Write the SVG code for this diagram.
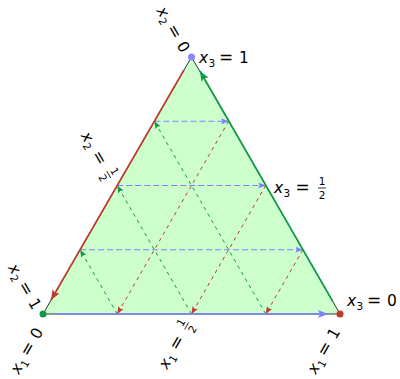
<svg xmlns="http://www.w3.org/2000/svg" width="400" height="379" viewBox="0 0 400 379">
<style>
.lbl{font-family:"DejaVu Sans","Liberation Sans",sans-serif;font-size:15.5px;fill:#000}
.it{font-style:italic}
.sub{font-size:10.5px}
.eq{font-size:17px}
.fr{font-family:"DejaVu Sans","Liberation Sans",sans-serif;font-size:10.5px;text-anchor:middle;fill:#000}
.bar{stroke:#000;stroke-width:0.8}
.db{fill:none;stroke:#8080ff;stroke-width:1.2;stroke-dasharray:6 3;marker-end:url(#ab)}
.dg{fill:none;stroke:#119a48;stroke-width:1;stroke-dasharray:3.5 4;marker-end:url(#ag)}
.dr{fill:none;stroke:#c03a2b;stroke-width:1;stroke-dasharray:3.5 4;marker-end:url(#ar)}
.edge{fill:none;stroke-width:1.6}
</style>
<defs>
<marker id="ab" viewBox="0 0 10 8" refX="10" refY="4" markerWidth="7.5" markerHeight="6" markerUnits="userSpaceOnUse" orient="auto"><path d="M0,0 L10,4 L0,8 L2,4 z" fill="#8080ff"/></marker>
<marker id="ag" viewBox="0 0 10 8" refX="10" refY="4" markerWidth="7.5" markerHeight="6" markerUnits="userSpaceOnUse" orient="auto"><path d="M0,0 L10,4 L0,8 L2,4 z" fill="#119a48"/></marker>
<marker id="ar" viewBox="0 0 10 8" refX="10" refY="4" markerWidth="7.5" markerHeight="6" markerUnits="userSpaceOnUse" orient="auto"><path d="M0,0 L10,4 L0,8 L2,4 z" fill="#c03a2b"/></marker>
<marker id="eb" viewBox="0 0 10 8" refX="10" refY="4" markerWidth="10" markerHeight="8" markerUnits="userSpaceOnUse" orient="auto"><path d="M0,0 L10,4 L0,8 L2,4 z" fill="#8080ff"/></marker>
<marker id="eg" viewBox="0 0 10 8" refX="10" refY="4" markerWidth="10" markerHeight="8" markerUnits="userSpaceOnUse" orient="auto"><path d="M0,0 L10,4 L0,8 L2,4 z" fill="#119a48"/></marker>
<marker id="er" viewBox="0 0 10 8" refX="10" refY="4" markerWidth="10" markerHeight="8" markerUnits="userSpaceOnUse" orient="auto"><path d="M0,0 L10,4 L0,8 L2,4 z" fill="#c03a2b"/></marker>
</defs>
<g id="simplex">
<polygon points="191.5,57 43,314 340,314" fill="#ccffcc" stroke="#000" stroke-width="0.8"/>
</g>
<g id="connectors">
<line class="db" x1="154.4" y1="121.25" x2="228.6" y2="121.25"/>
<line class="db" x1="117.25" y1="185.5" x2="265.75" y2="185.5"/>
<line class="db" x1="80.1" y1="249.75" x2="302.9" y2="249.75"/>
<line class="dg" x1="117.25" y1="314" x2="80.1" y2="249.75"/>
<line class="dg" x1="191.5" y1="314" x2="117.25" y2="185.5"/>
<line class="dg" x1="265.75" y1="314" x2="154.4" y2="121.25"/>
<line class="dr" x1="228.6" y1="121.25" x2="117.25" y2="314"/>
<line class="dr" x1="265.75" y1="185.5" x2="191.5" y2="314"/>
<line class="dr" x1="302.9" y1="249.75" x2="265.75" y2="314"/>
<line class="edge" stroke="#c03a2b" marker-end="url(#er)" x1="184" y1="70" x2="51" y2="300"/>
<line class="edge" stroke="#8080ff" marker-end="url(#eb)" x1="56" y1="314" x2="328" y2="314"/>
<line class="edge" stroke="#119a48" marker-end="url(#eg)" x1="332.5" y1="301" x2="200" y2="71"/>
</g>
<g id="vertex-top"><circle cx="191.5" cy="57" r="3.5" fill="#8888ff"/>
<text class="lbl" transform="translate(199,63)"><tspan class="it">x</tspan><tspan class="sub" x="9.5" dy="3.5">3</tspan><tspan class="eq" x="20" dy="-3.5">=</tspan><tspan x="40">1</tspan></text></g>
<g id="vertex-left"><circle cx="43" cy="314" r="3.5" fill="#119a48"/></g>
<g id="vertex-right"><circle cx="340" cy="314" r="3.5" fill="#c03a2b"/>
<text class="lbl" transform="translate(347,306)"><tspan class="it">x</tspan><tspan class="sub" x="9.5" dy="3.5">3</tspan><tspan class="eq" x="20" dy="-3.5">=</tspan><tspan x="40">0</tspan></text></g>
<g id="label-x3-half" transform="translate(274,193)">
<text class="lbl"><tspan class="it">x</tspan><tspan class="sub" x="9.5" dy="3.5">3</tspan><tspan class="eq" x="21.5" dy="-3.5">=</tspan></text>
<text class="fr" x="48" y="-8">1</text><line class="bar" x1="44" y1="-5" x2="52" y2="-5"/><text class="fr" x="48" y="5.5">2</text></g>
<g id="label-x2-0" transform="translate(156.3,10.6) rotate(60)">
<text class="lbl"><tspan class="it">x</tspan><tspan class="sub" x="9.5" dy="3.5">2</tspan><tspan class="eq" x="20" dy="-3.5">=</tspan><tspan x="40">0</tspan></text></g>
<g id="label-x2-half" transform="translate(80.5,135.6) rotate(60)">
<text class="lbl"><tspan class="it">x</tspan><tspan class="sub" x="9.5" dy="3.5">2</tspan><tspan class="eq" x="21.5" dy="-3.5">=</tspan></text>
<text class="fr" x="48" y="-8">1</text><line class="bar" x1="44" y1="-5" x2="52" y2="-5"/><text class="fr" x="48" y="5.5">2</text></g>
<g id="label-x2-1" transform="translate(7.8,267.6) rotate(60)">
<text class="lbl"><tspan class="it">x</tspan><tspan class="sub" x="9.5" dy="3.5">2</tspan><tspan class="eq" x="20" dy="-3.5">=</tspan><tspan x="40">1</tspan></text></g>
<g id="label-x1-0" transform="translate(18.8,375) rotate(-60)">
<text class="lbl"><tspan class="it">x</tspan><tspan class="sub" x="9.5" dy="3.5">1</tspan><tspan class="eq" x="20" dy="-3.5">=</tspan><tspan x="40">0</tspan></text></g>
<g id="label-x1-half" transform="translate(167,370) rotate(-60)">
<text class="lbl"><tspan class="it">x</tspan><tspan class="sub" x="9.5" dy="3.5">1</tspan><tspan class="eq" x="21.5" dy="-3.5">=</tspan></text>
<text class="fr" x="48" y="-8">1</text><line class="bar" x1="44" y1="-5" x2="52" y2="-5"/><text class="fr" x="48" y="5.5">2</text></g>
<g id="label-x1-1" transform="translate(315.8,375) rotate(-60)">
<text class="lbl"><tspan class="it">x</tspan><tspan class="sub" x="9.5" dy="3.5">1</tspan><tspan class="eq" x="20" dy="-3.5">=</tspan><tspan x="40">1</tspan></text></g>
</svg>
